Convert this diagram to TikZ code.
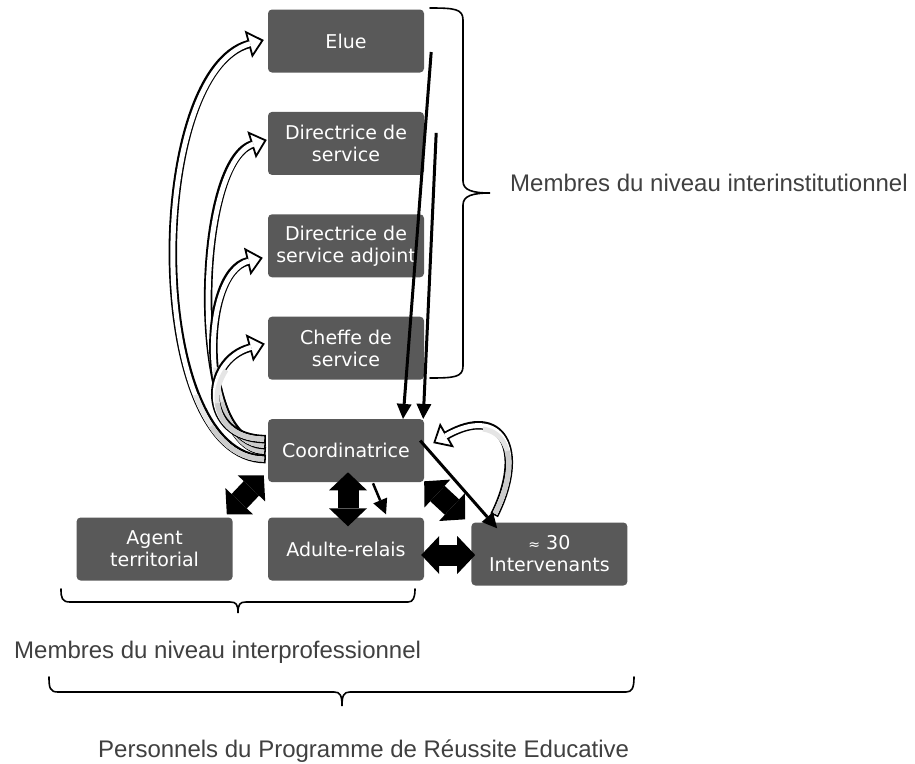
\documentclass[tikz,border=0pt]{standalone}
\usepackage{fontspec}
\setmainfont{Liberation Sans}
\newfontfamily\boxfont{DejaVu Sans}
\usepackage{tikz}
\tikzset{>=latex}
\usetikzlibrary{arrows.meta, positioning}

\definecolor{boxgray}{HTML}{595959}
\definecolor{txtgray}{HTML}{404040}
\definecolor{tailgray}{HTML}{CCCCCC}

\tikzset{
    box/.style={fill=boxgray, rounded corners=4pt, minimum width=156pt, minimum height=63pt, inner sep=2pt,
        text=white, align=center, font=\boxfont\fontsize{19}{22}\selectfont},
    lbl/.style={text=txtgray, inner sep=0pt, anchor=base west, font=\fontsize{24}{28}\selectfont},
    brace/.style={line width=1.6pt, line cap=round},
    openarrow/.style={line width=8.5pt, -{Triangle[length=16pt, width=28pt, line width=1.8pt, fill=white]},
        postaction={draw=white, line width=5pt, shorten >=14pt, shorten <=1.8pt, -},
        postaction={draw=black!10, line width=5pt, shorten <=1.8pt, dash pattern=on 100pt off 3000pt, -},
        postaction={draw=tailgray, line width=5pt, shorten <=1.8pt, dash pattern=on 65pt off 3000pt, -}},
    thinarrow/.style={line width=3pt, -{Triangle[length=15pt, width=15pt, line width=0pt]}},
    blockarrow/.style={line width=21pt, {Triangle[length=18pt, width=38pt, line width=0pt]}-{Triangle[length=18pt, width=38pt, line width=0pt]}}
}

\begin{document}
\begin{tikzpicture}[x=1pt, y=-1pt]
    \useasboundingbox (0,0) rectangle (915,763);

    % column of members
    \node[box] (elue) at (346,41) {Elue};
    \node[box, below=39pt of elue] (dirserv) {Directrice de\\service};
    \node[box, below=39pt of dirserv] (diradj) {Directrice de\\service adjoint};
    \node[box, below=39pt of diradj] (cheffe) {Cheffe de\\service};
    \node[box, below=39pt of cheffe] (coord) {Coordinatrice};

    % bottom row
    \node[box, below=35pt of coord] (adulte) {Adulte-relais};
    \node[box, left=35pt of adulte] (agent) {Agent\\territorial};
    \node[box, right=47pt of adulte, yshift=-5pt] (interv) {{\fontsize{14}{22}\selectfont ≈} 30\\Intervenants};

    % open arrows from the coordinatrice
    \foreach \dest/\tx/\ty/\sy/\ca/\cx/\cy in {elue/-4/1/-8.5/122/118/32, dirserv/-1/3.5/-0.5/77/73/23,
            diradj/-5/-12/5.5/66/64/15, cheffe/-3/4.5/11.5/65/63/17}{
        \draw[openarrow] ([xshift=-2pt, yshift=\sy pt]coord.west) .. controls +(-\ca,0) and +(-\cx,\cy) .. ([xshift=\tx pt, yshift=\ty pt]\dest.west);
    }
    \draw[openarrow] ([xshift=23pt, yshift=7pt]interv.north west) .. controls +(33,-66) and +(68,-39) .. ([xshift=9pt, yshift=7.5pt]coord.east);

    % thin arrows
    \draw[thinarrow] ([xshift=7pt, yshift=-11pt]elue.east) -- ([xshift=57pt]coord.north);
    \draw[thinarrow] ([xshift=12pt, yshift=10.5pt]dirserv.east) -- ([xshift=-1pt]coord.north east);
    \draw[thinarrow] ([xshift=-4pt, yshift=10pt]coord.east) -- ([xshift=26pt, yshift=-6pt]interv.north west);
    \draw[thinarrow, line width=2.5pt] ([xshift=27pt, yshift=-1pt]coord.south) -- ([xshift=40pt, yshift=3pt]adulte.north);

    % block arrows
    \draw[blockarrow] ([xshift=2pt, yshift=10pt]coord.south) -- ([xshift=2pt, yshift=-9pt]adulte.north);
    \draw[blockarrow] ([xshift=-3pt, yshift=-6pt]adulte.east) -- ([xshift=4pt, yshift=-1pt]interv.west);
    \draw[blockarrow] ([yshift=1pt]coord.south east) -- ([xshift=-6pt, yshift=3pt]interv.north west);
    \draw[blockarrow] ([xshift=-4pt, yshift=7pt]coord.south west) -- ([xshift=-6pt, yshift=3pt]agent.north east);

    % braces
    \draw[brace] (430,8) .. controls (455,8) and (463,9) .. (463,20) -- (463,181) .. controls (463,190) and (472,193) .. (490,193)
        .. controls (472,193) and (463,196) .. (463,205) -- (463,366) .. controls (463,377) and (455,378) .. (430,378);
    \draw[brace] (61,589) .. controls (61,598) and (62,602) .. (70,602) -- (230,602) .. controls (236,602) and (238,604) .. (238,613)
        .. controls (238,604) and (240,602) .. (246,602) -- (408,602) .. controls (413,602) and (415,598) .. (415,589);
    \draw[brace] (49,677) .. controls (49,688) and (50,692) .. (58,692) -- (334,692) .. controls (340,692) and (342,695) .. (342,706)
        .. controls (342,695) and (344,692) .. (350,692) -- (626,692) .. controls (632,692) and (634,688) .. (634,677);

    \node[lbl] (lblinst) at (510,191) {Membres du niveau interinstitutionnel};
    \node[lbl] (lblprof) at (14,658) {Membres du niveau interprofessionnel};
    \node[lbl] (lblprog) at (98,757) {Personnels du Programme de Réussite Educative};
\end{tikzpicture}
\end{document}
